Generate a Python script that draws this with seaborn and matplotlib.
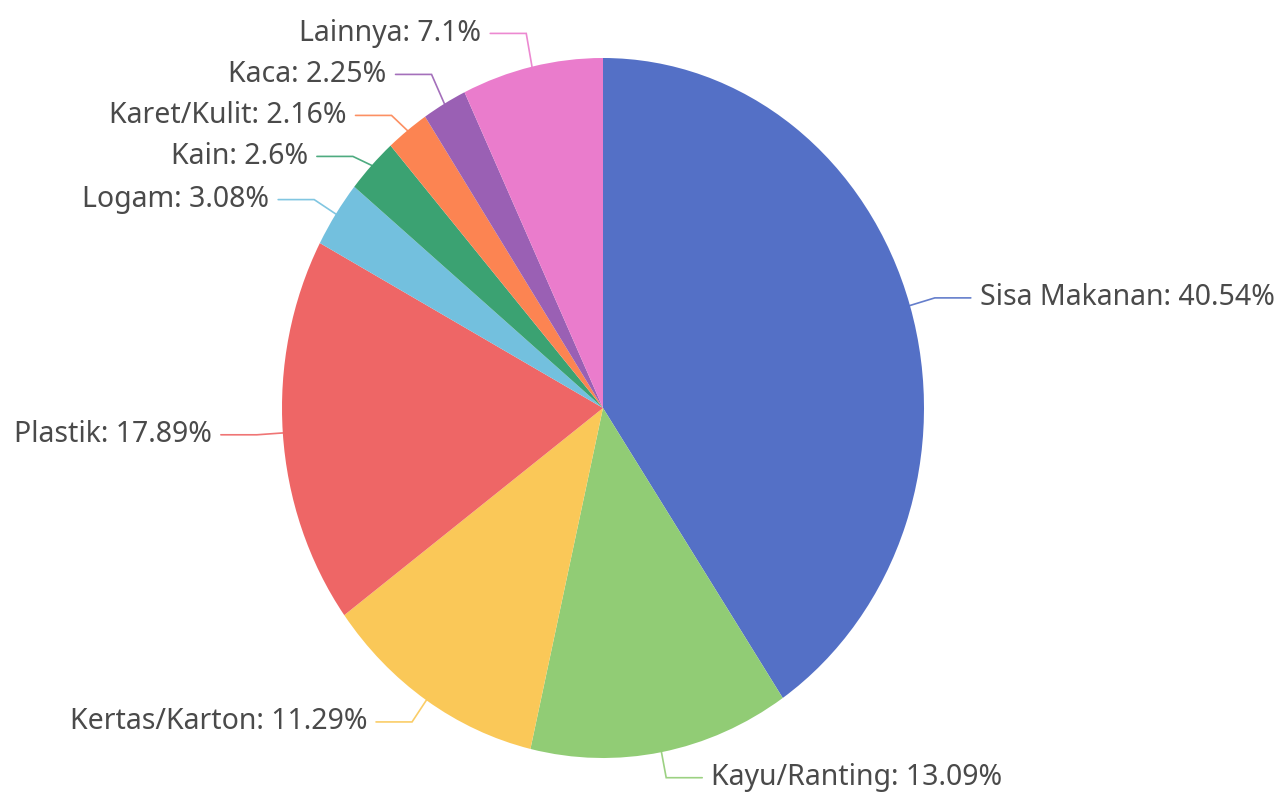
import numpy as np
import matplotlib
matplotlib.use("Agg")
import matplotlib.pyplot as plt
import seaborn as sns

categories = ["Sisa Makanan", "Kayu/Ranting", "Kertas/Karton", "Plastik", "Logam",
              "Kain", "Karet/Kulit", "Kaca", "Lainnya"]
values = [40.54, 13.09, 11.29, 17.89, 3.08, 2.6, 2.16, 2.25, 7.1]
value_labels = ["40.54%", "13.09%", "11.29%", "17.89%", "3.08%", "2.6%", "2.16%", "2.25%", "7.1%"]
colors = ["#5470c6", "#91cc75", "#fac858", "#ee6666", "#73c0de",
          "#3ba272", "#fc8452", "#9a60b4", "#ea7ccc"]

sns.set_theme(style="white")
plt.rcParams['font.family'] = ['Noto Sans', 'DejaVu Sans']

W, H = 1287, 794
fig = plt.figure(figsize=(W / 100, H / 100), dpi=100)
ax = fig.add_axes([0, 0, 1, 1])

CX, CY = 603, 408      # pie centre in pixels
RX, RY = 321, 350      # pie radii in pixels (reference is slightly stretched)

ax.pie(values, colors=colors, startangle=90, counterclock=False, radius=1,
       center=(0, 0), wedgeprops=dict(linewidth=0))
ax.set_aspect('auto')
ax.set_xlim(-CX / RX, (W - CX) / RX)
ax.set_ylim(-(H - CY) / RY, CY / RY)
ax.axis('off')


def to_data(px, py):
    return (px - CX) / RX, (CY - py) / RY


L1, L2, GAP, MIN_SEP = 26, 36, 9, 41
total = sum(values)
cum = np.cumsum([0] + values[:-1])
items = []
for i, v in enumerate(values):
    mid = (cum[i] + v / 2) / total
    th = np.pi / 2 - 2 * np.pi * mid
    ex, ey = CX + RX * np.cos(th), CY - RY * np.sin(th)
    bx, by = CX + (RX + L1) * np.cos(th), CY - (RY + L1) * np.sin(th)
    items.append(dict(i=i, ex=ex, ey=ey, bx=bx, y=by, right=np.cos(th) >= 0))

# resolve vertical overlaps per side
for side in (True, False):
    grp = sorted([it for it in items if it['right'] == side], key=lambda d: d['y'])
    for _ in range(300):
        moved = False
        for a, b in zip(grp[:-1], grp[1:]):
            d = b['y'] - a['y']
            if d < MIN_SEP:
                s = (MIN_SEP - d) / 2
                a['y'] -= s
                b['y'] += s
                moved = True
        if not moved:
            break

for it in items:
    i = it['i']
    sgn = 1 if it['right'] else -1
    xs = [it['ex'], it['bx'], it['bx'] + sgn * L2]
    ys = [it['ey'], it['y'], it['y']]
    pts = [to_data(x, y) for x, y in zip(xs, ys)]
    ax.plot([p[0] for p in pts], [p[1] for p in pts], color=colors[i], lw=1.2,
            alpha=0.9, solid_joinstyle='miter')
    tx, ty = to_data(it['bx'] + sgn * (L2 + GAP), it['y'])
    ax.text(tx, ty, f"{categories[i]}: {value_labels[i]}", ha='left' if it['right'] else 'right',
            va='center', fontsize=20.5, color='#4a4a4a')

fig.savefig("out.png", dpi=100, facecolor='white')
